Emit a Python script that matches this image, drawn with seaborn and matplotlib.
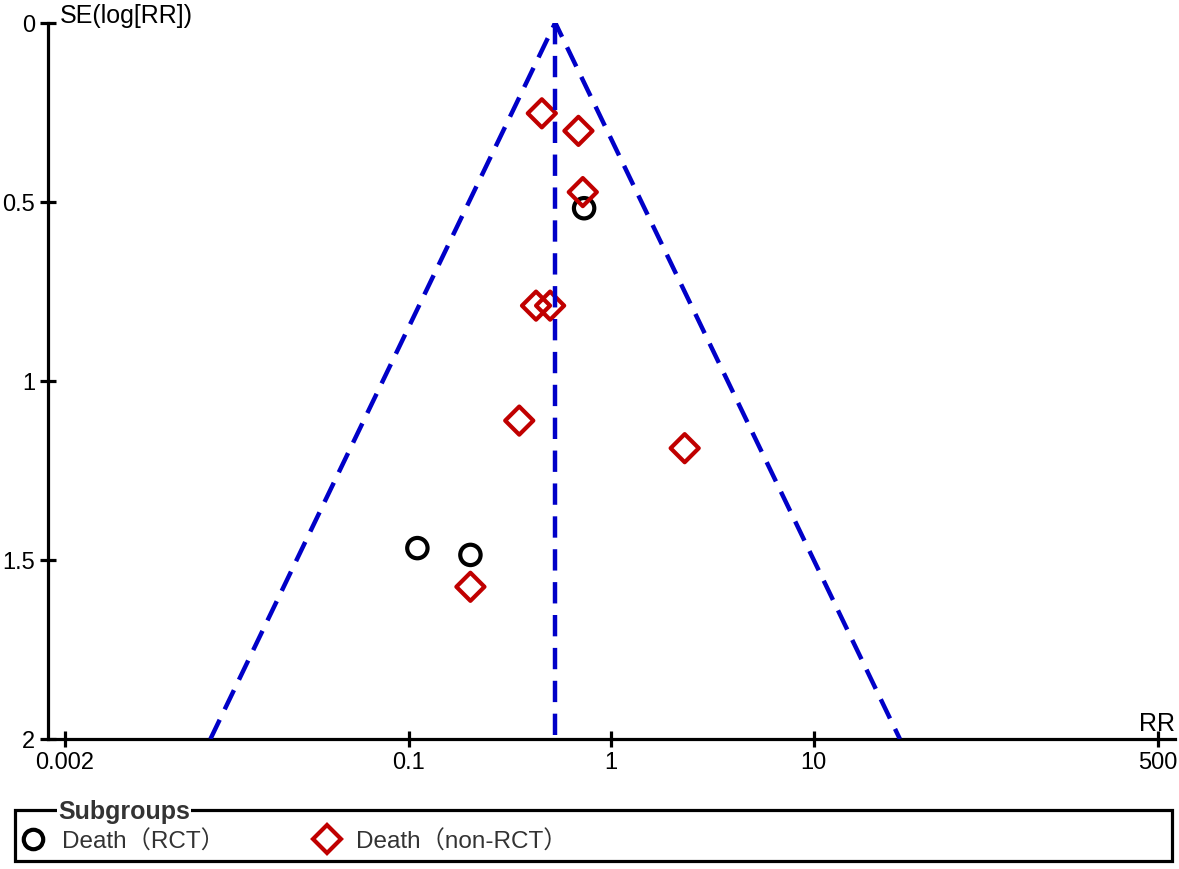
import numpy as np
import pandas as pd
import matplotlib
matplotlib.use("Agg")
import matplotlib.pyplot as plt
from matplotlib.lines import Line2D
from matplotlib.patches import Rectangle
import seaborn as sns

# values
rct_rr = [0.736, 0.1105, 0.202]
rct_se = [0.518, 1.467, 1.486]
nonrct_rr = [0.455, 0.690, 0.725, 0.426, 0.50, 0.352, 2.31, 0.202]
nonrct_se = [0.253, 0.302, 0.473, 0.790, 0.790, 1.111, 1.188, 1.575]

pooled_rr = 0.53
funnel_rr = [0.0105, 0.53, 26.7]
funnel_se = [2.0, 0.0, 2.0]
center_rr = [0.53, 0.53]
center_se = [0.0, 2.0]

xticks = [0.002, 0.1, 1, 10, 500]
xtick_labels = ["0.002", "0.1", "1", "10", "500"]
yticks = [0, 0.5, 1, 1.5, 2]
ytick_labels = ["0", "0.5", "1", "1.5", "2"]

groups = ["Death\uff08RCT\uff09", "Death\uff08non-RCT\uff09"]

sns.set_style("white")
plt.rcParams["font.family"] = ["Liberation Sans", "Noto Sans CJK SC", "DejaVu Sans"]

W, H = 1179, 870
fig = plt.figure(figsize=(W / 100, H / 100), dpi=100)
ax = fig.add_axes([47.7 / W, 1 - 740 / H, (1175 - 47.7) / W, (740 - 23.7) / H])
ax.set_xscale("log")

blue = "#0000C8"
red = "#C00000"
dash = (0, (4.8, 2.6))

sns.lineplot(x=funnel_rr, y=funnel_se, sort=False, estimator=None, color=blue,
             lw=3.2, linestyle=dash, ax=ax, zorder=3)
sns.lineplot(x=center_rr, y=center_se, sort=False, estimator=None, color=blue,
             lw=3.2, linestyle=dash, ax=ax, zorder=3)

sns.scatterplot(x=rct_rr, y=rct_se, marker="o", s=215, facecolor="none",
                edgecolor="black", linewidth=3, ax=ax, zorder=2)
sns.scatterplot(x=nonrct_rr, y=nonrct_se, marker="D", s=205, facecolor="none",
                edgecolor=red, linewidth=3, ax=ax, zorder=2)

ax.set_xlim(0.00165, 610)
ax.set_ylim(2, 0)
ax.set_xticks(xticks)
ax.set_xticklabels(xtick_labels)
ax.xaxis.set_minor_locator(matplotlib.ticker.NullLocator())
ax.set_yticks(yticks)
ax.set_yticklabels(ytick_labels)
ax.set_xlabel("")
ax.set_ylabel("")

sns.despine(ax=ax, top=True, right=True)
for s in ["left", "bottom"]:
    ax.spines[s].set_linewidth(2.3)
    ax.spines[s].set_color("black")
ax.tick_params(axis="both", direction="inout", length=12, width=2.3,
               labelsize=17, pad=3, colors="black", bottom=True, left=True)

fig.text(60 / W, 1 - 16 / H, "SE(log[RR])", fontsize=18, va="center", ha="left",
         color="black")
ax.text(1, 0.006, "RR", transform=ax.transAxes, fontsize=18, ha="right", va="bottom",
        color="black")

# legend box
rect = Rectangle((15 / W, 1 - 862 / H), (1172 - 15) / W, (862 - 811) / H,
                 transform=fig.transFigure, fill=False, edgecolor="black", lw=2.3)
fig.add_artist(rect)
fig.text(58 / W, 1 - 812 / H, "Subgroups", fontsize=18, fontweight="bold",
         color="#333333", va="center", ha="left",
         bbox=dict(facecolor="white", edgecolor="none", pad=1))

handles = [
    Line2D([], [], marker="o", ls="none", markersize=14, markerfacecolor="none",
           markeredgecolor="black", markeredgewidth=3),
    Line2D([], [], marker="D", ls="none", markersize=14, markerfacecolor="none",
           markeredgecolor=red, markeredgewidth=3),
]
fig.legend(handles, groups, loc="center left", bbox_to_anchor=(18 / W, 1 - 842 / H),
           ncol=2, frameon=False, fontsize=17.5, labelcolor="#333333",
           handlelength=1.2, handletextpad=0.6, columnspacing=3.6,
           borderpad=0, borderaxespad=0)

fig.savefig("out.png", dpi=100)
